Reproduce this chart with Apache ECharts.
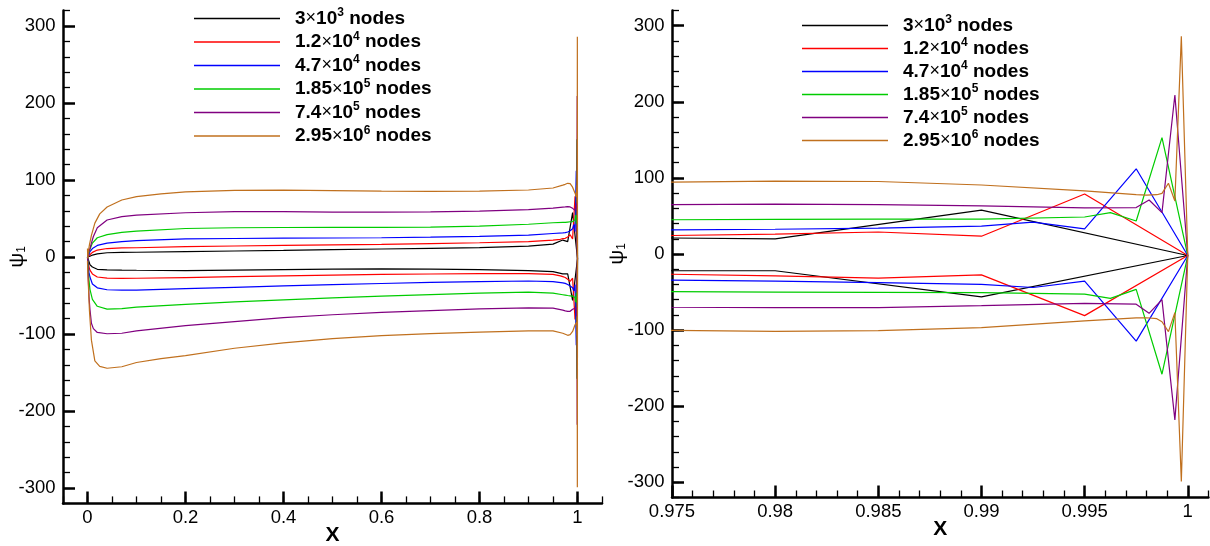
<!DOCTYPE html>
<html><head><meta charset="utf-8">
<script src="https://cdn.jsdelivr.net/npm/echarts@6/dist/echarts.min.js"></script>
<style>html,body{margin:0;padding:0;background:#fff}#c{width:1210px;height:546px}</style>
</head><body><div id="c"></div>
<script>
// ---- legend text pieces ----
const mantissas = ['3', '1.2', '4.7', '1.85', '7.4', '2.95'];
const exponents = ['3', '4', '4', '5', '5', '6'];
const colors = ['#000000', '#ff0000', '#0000ff', '#00cc00', '#800080', '#c0701e'];

// ---- series data: x positions, upper branch, lower branch ----
const x1 = [0, 0.003, 0.005, 0.01, 0.02, 0.04, 0.07, 0.1, 0.2, 0.3, 0.4, 0.5, 0.6, 0.7, 0.8, 0.9, 0.95, 0.97, 0.98, 0.99, 1];
const up1 = [0, 0.5, 1, 2.5, 4, 5.5, 6, 6.2, 7, 7.8, 8.6, 9.5, 10.4, 11.3, 12.2, 14, 16.7, 22, 20, 57.7, -2];
const lo1 = [0, -8, -10, -13, -16, -16.6, -17, -17.2, -17.6, -17, -16.3, -15.8, -15.4, -15.7, -16.3, -17.6, -19, -22, -22, -56.3, -2];

const x2 = [0, 0.003, 0.005, 0.01, 0.02, 0.04, 0.07, 0.1, 0.2, 0.3, 0.4, 0.5, 0.6, 0.7, 0.8, 0.9, 0.95, 0.965, 0.97, 0.975, 0.98, 0.985, 0.99, 0.995, 1];
const up2 = [0, 1, 3, 6, 9, 11, 11.8, 12, 13.5, 14.3, 15, 15.7, 16.3, 17.4, 18.5, 20, 22, 23, 23.8, 24.3, 26, 28.9, 23.4, 78.8, -2];
const lo2 = [0, -13, -17, -22, -26, -27.5, -27.7, -27.6, -26.7, -25.5, -24.4, -23.5, -22.6, -22.1, -21.7, -21.7, -22.6, -24.5, -25.5, -26.6, -28.8, -31.6, -27.5, -81, -2];

const x3 = [0, 0.003, 0.005, 0.01, 0.02, 0.04, 0.07, 0.1, 0.2, 0.3, 0.4, 0.5, 0.6, 0.7, 0.8, 0.9, 0.95, 0.97, 0.975, 0.98, 0.985, 0.99, 0.9925, 0.995, 0.9975, 1];
const up3 = [0, 3, 7, 11, 15, 18, 20, 21.3, 23.5, 24, 24.4, 24.7, 25, 25.8, 26.7, 28.5, 30.5, 31.3, 31.6, 32.5, 34, 36.6, 42, 33, 112, -2];
const lo3 = [0, -20, -26, -35, -40, -42.5, -43, -43, -41.2, -39.4, -37.6, -36, -34.4, -33, -32, -31.2, -32, -33.5, -34.3, -35.7, -37.6, -39.8, -44, -35.7, -114.5, -2];

const x4 = [0, 0.003, 0.005, 0.01, 0.02, 0.04, 0.07, 0.1, 0.2, 0.3, 0.4, 0.5, 0.6, 0.7, 0.8, 0.9, 0.95, 0.97, 0.975, 0.98, 0.985, 0.99, 0.995, 0.99625, 0.9975, 0.99875, 1];
const up4 = [0, 6, 10, 18, 25, 29, 32, 33.5, 37, 38, 38.3, 38.5, 38.5, 38.8, 40, 42.5, 44.5, 45, 45, 45.4, 45.8, 45.8, 48.6, 54.3, 43.4, 153, -2];
const lo4 = [0, -30, -42, -55, -64, -67.7, -67, -65, -61.5, -58.4, -55.7, -53, -50.7, -48.9, -47, -45.7, -47, -49, -49.5, -50, -50.4, -50.8, -52.7, -58.4, -46.5, -158, -2];

const x5 = [0, 0.003, 0.005, 0.008, 0.012, 0.02, 0.04, 0.07, 0.1, 0.2, 0.3, 0.4, 0.5, 0.6, 0.7, 0.8, 0.9, 0.95, 0.97, 0.975, 0.98, 0.985, 0.99, 0.995, 0.9975, 0.998125, 0.99875, 0.999375, 1];
const up5 = [0, 7, 11, 18, 26.6, 38, 48, 52.5, 54.5, 57.5, 58.8, 58.8, 58.4, 58.4, 58.6, 59.5, 61.5, 63.5, 64.8, 65, 65.5, 65, 63.2, 60.5, 61, 71, 54.3, 209, -2];
const lo5 = [0, -51, -68, -86, -93, -98, -99.7, -99, -96, -89, -84, -78.7, -75, -72, -69.7, -67.4, -66, -66.5, -69, -70, -70.5, -70.5, -67.8, -65, -66, -78, -60, -218, -2];

const x6 = [0, 0.0005, 0.002, 0.004, 0.008, 0.015, 0.025, 0.04, 0.07, 0.1, 0.15, 0.2, 0.3, 0.4, 0.5, 0.6, 0.7, 0.8, 0.9, 0.95, 0.97, 0.975, 0.98, 0.985, 0.99, 0.995, 0.9975, 0.998, 0.9985, 0.99875, 0.999063, 0.999375, 0.999688, 1];
const up6 = [11, -2, 8, 16, 28, 44, 56, 65, 74, 78.5, 82, 84.5, 86.5, 86.8, 86.2, 85.5, 85.2, 85.6, 87, 89.6, 93.3, 94.4, 95.7, 95.3, 90.7, 82.9, 77.9, 77.4, 77.9, 79.7, 93, 69.6, 286, -2];
const lo6 = [-5, -20, -40, -70, -108, -135, -142, -144.5, -142.5, -137, -132, -128, -118.5, -111.5, -106, -102, -99.5, -97.5, -96, -96, -99, -100.3, -101.7, -100.8, -96.7, -88, -84, -83.8, -85, -89, -102, -77, -299, -2];

// ---- tick values ----
const yMajor = [-300, -200, -100, 0, 100, 200, 300];
const xMajorLeft = [0, 0.2, 0.4, 0.6, 0.8, 1];
const xMajorRight = [0.975, 0.98, 0.985, 0.99, 0.995, 1];

const xs = [x1, x2, x3, x4, x5, x6];
const ups = [up1, up2, up3, up4, up5, up6];
const los = [lo1, lo2, lo3, lo4, lo5, lo6];
const names = mantissas.map((m, i) => m + '×10^' + exponents[i] + ' nodes');

function steps(a, b, n) { const r = []; for (let k = 0; k <= n; k++) r.push(+(a + (b - a) * k / n).toFixed(6)); return r; }
const yMinor = steps(-320, 320, 32);
const xMinorLeft = steps(-0.05, 1.05, 22);
const xMinorRight = steps(0.975, 1.001, 26);

const font = 'Liberation Sans, Arial, Helvetica, sans-serif';
const fmt = v => String(parseFloat((+v).toFixed(4)));

function loopData(i) {
  const x = xs[i], u = ups[i], l = los[i];
  const top = x.map((v, k) => [v, u[k]]);
  const bot = x.map((v, k) => [v, l[k]]).reverse();
  return top.concat(bot);
}

function xMaj(grid, min, max, ticks) {
  return {
    type: 'value', gridIndex: grid, min, max, position: 'bottom',
    axisLine: { show: true, onZero: false, lineStyle: { color: '#000', width: 2.5 } },
    axisTick: { show: true, inside: true, length: 12, customValues: ticks, lineStyle: { color: '#000', width: 2.5 } },
    axisLabel: { show: true, customValues: ticks, formatter: fmt, color: '#000', fontSize: 18.5, fontFamily: font, margin: 5 },
    splitLine: { show: false },
    name: 'X', nameLocation: 'middle', nameGap: 21, nameMoveOverlap: false,
    nameTextStyle: { fontSize: 21, fontWeight: 'bold', color: '#000', fontFamily: font }
  };
}
function xMin(grid, min, max, ticks) {
  return {
    type: 'value', gridIndex: grid, min, max, position: 'bottom',
    axisLine: { show: false, onZero: false },
    axisTick: { show: true, inside: true, length: 7, customValues: ticks, lineStyle: { color: '#000', width: 1.3 } },
    axisLabel: { show: false }, splitLine: { show: false }
  };
}
function yMaj(grid, gap) {
  return {
    type: 'value', gridIndex: grid, min: -320, max: 320, position: 'left',
    axisLine: { show: true, onZero: false, lineStyle: { color: '#000', width: 2.5 } },
    axisTick: { show: true, inside: true, length: 12, customValues: yMajor, lineStyle: { color: '#000', width: 2.5 } },
    axisLabel: { show: true, customValues: yMajor, formatter: fmt, color: '#000', fontSize: 18.5, fontFamily: font, margin: 7.5 },
    splitLine: { show: false },
    name: '{p|ψ}{s|1}', nameLocation: 'middle', nameGap: gap, nameRotate: 90, nameMoveOverlap: false,
    nameTextStyle: {
      color: '#000',
      rich: {
        p: { fontSize: 21, fontFamily: font, color: '#000', lineHeight: 22 },
        s: { fontSize: 12, fontFamily: font, color: '#000', lineHeight: 12, verticalAlign: 'bottom' }
      }
    }
  };
}
function yMin(grid) {
  return {
    type: 'value', gridIndex: grid, min: -320, max: 320, position: 'left',
    axisLine: { show: false, onZero: false },
    axisTick: { show: true, inside: true, length: 7, customValues: yMinor, lineStyle: { color: '#000', width: 1.3 } },
    axisLabel: { show: false }, splitLine: { show: false }
  };
}

const series = [];
[0, 1].forEach(g => {
  names.forEach((n, i) => {
    series.push({
      type: 'line', name: n, xAxisIndex: g * 2, yAxisIndex: g * 2,
      data: loopData(i), showSymbol: false, symbol: 'none', smooth: false,
      clip: true, silent: true,
      lineStyle: { color: colors[i], width: 1.2 }, itemStyle: { color: colors[i] }
    });
  });
});

function legend(left, top, gap) {
  return {
    orient: 'vertical', left, top, padding: 0, itemGap: gap,
    itemWidth: 86, itemHeight: 1.6, icon: 'rect', selectedMode: false,
    data: names,
    formatter: name => {
      const i = names.indexOf(name);
      return '{sp| }{m|' + mantissas[i] + '}{x|×}{m|10}{s|' + exponents[i] + '}{m| nodes}';
    },
    textStyle: {
      rich: {
        sp: { width: 10, lineHeight: 23 },
        m: { fontSize: 19, fontWeight: 'bold', fontFamily: font, color: '#000', lineHeight: 23 },
        x: { fontSize: 18, fontFamily: font, color: '#000', lineHeight: 23 },
        s: { fontSize: 12, fontWeight: 'bold', fontFamily: font, color: '#000', lineHeight: 14, verticalAlign: 'top' }
      }
    }
  };
}

const chart = echarts.init(document.getElementById('c'), null, { renderer: 'canvas' });
chart.setOption({
  animation: false,
  backgroundColor: '#fff',
  grid: [
    { left: 63, right: 608, top: 10.6, bottom: 42.6, containLabel: false, outerBoundsMode: 'none' },
    { left: 672, right: 1.6, top: 10.5, bottom: 48.5, containLabel: false, outerBoundsMode: 'none' }
  ],
  xAxis: [
    xMaj(0, -0.05, 1.05, xMajorLeft), xMin(0, -0.05, 1.05, xMinorLeft),
    xMaj(1, 0.975, 1.001, xMajorRight), xMin(1, 0.975, 1.001, xMinorRight)
  ],
  yAxis: [yMaj(0, 35), yMin(0), yMaj(1, 44), yMin(1)],
  legend: [legend(194, 7, 2.5), legend(802, 14, 2)],
  series
});
</script>
</body></html>
